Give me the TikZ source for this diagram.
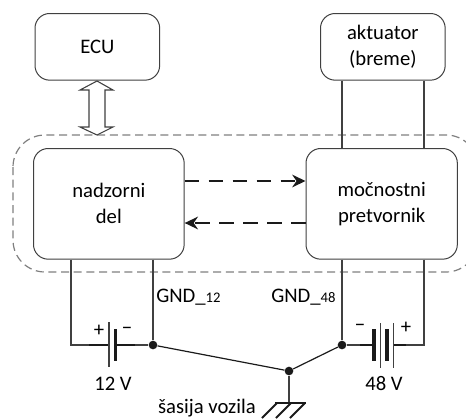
\documentclass[tikz,border=0pt]{standalone}
\usepackage{fontspec}
\setmainfont{Carlito}
\usepackage{tikz}
\usetikzlibrary{calc,arrows.meta}
\definecolor{line}{HTML}{404040}
\definecolor{ink}{HTML}{1A1A1A}
\definecolor{dashgray}{HTML}{7F7F7F}
\tikzset{
  blok/.style={draw=line, line width=0.75pt, rounded corners=11pt, fill=white},
  wire/.style={draw=line, line width=0.95pt},
  lead/.style={draw=ink, line width=1.2pt},
  gnd/.style={draw=ink, line width=0.9pt},
  thin/.style={draw=line, line width=0.9pt},
  thick/.style={draw=ink, line width=2.7pt},
  sig/.style={draw=ink, line width=1.4pt, dash pattern=on 11pt off 7pt, -{Stealth[length=10pt,width=9.5pt]}},
  dot/.style={circle, fill=ink, inner sep=0pt, minimum size=6.5pt},
  lab/.style={text=black, font=\fontsize{15.5}{19.5}\selectfont, align=center, inner sep=0pt},
}

\begin{document}
\begin{tikzpicture}[x=0.75pt,y=-0.75pt]
  \useasboundingbox (0,0) rectangle (466,418);

  % dashed frame
  \draw[dashgray, line width=0.9pt, dash pattern=on 6pt off 3.5pt, rounded corners=24pt] (13,135) rectangle (478,272);

  % blocks
  \node[blok, minimum width=93.5pt, minimum height=50pt, anchor=north west, lab] (ecu) at (34.5,13) {ECU};
  \node[blok, minimum width=93.5pt, minimum height=50pt, anchor=north west, lab] (akt) at (320,13) {aktuator\\(breme)};
  \node[blok, minimum width=113pt, minimum height=83pt, anchor=north west, lab] (nad) at (33,148) {nadzorni\\del};
  \node[blok, minimum width=113.5pt, minimum height=83pt, anchor=north west, lab] (moc) at (305.5,148) {močnostni\\pretvornik};

  % junctions
  \node[dot] (gndL) at (153,345) {};
  \node[dot] (gndR) at (342,345) {};
  \node[dot] (chassis) at (289,371) {};
  \coordinate (earth) at (289,403);

  % wires
  \draw[wire] (nad.south -| 71,0) -- (71,345) -- (89,345);
  \draw[wire] (nad.south -| gndL) -- (gndL);
  \draw[wire] (moc.south -| gndR) -- (gndR);
  \draw[wire] (moc.south -| 424,0) -- (424,345) -- (406,345);
  \draw[wire] (akt.south -| 342,0) -- (moc.north -| 342,0);
  \draw[wire] (akt.south -| 424,0) -- (moc.north -| 424,0);

  % bus arrow
  \draw[line, line width=0.8pt, fill=white] (97,81) -- (113,90) -- (105,90) -- (105,127) -- (113,127) -- (97,135) -- (80,127) -- (89,127) -- (89,90) -- (80,90) -- cycle;

  % control signals
  \draw[sig] (nad.east |- 0,181) -- (moc.west |- 0,181);
  \draw[sig] (moc.west |- 0,223) -- (nad.east |- 0,223);

  % ground wiring
  \draw[gnd] (gndL) -- (chassis) -- (gndR);
  \draw[wire] (chassis) -- (earth);

  % earth symbol
  \draw[gnd, line width=1.6pt] (275,403) -- (306,403);
  \foreach \x in {277,291,305} \draw[gnd, line width=1.4pt] (\x,403) -- (\x-15,418);

  % 12 V battery
  \draw[lead] (89,345) -- (109,345);
  \draw[lead] (115,345) -- (135,345);
  \draw[wire] (135,345) -- (gndL);
  \draw[thin] (109,322) -- (109,367);
  \draw[thick] (115.5,329) -- (115.5,361);

  % 48 V battery
  \draw[wire] (gndR) -- (360,345);
  \draw[lead] (360,345) -- (374,345);
  \draw[lead] (393,345) -- (406,345);
  \draw[thick] (374,329) -- (374,361);
  \draw[thin] (380.5,323) -- (380.5,368);
  \draw[thick] (387,329) -- (387,361);
  \draw[thin] (393.5,323) -- (393.5,368);

  % labels
  \node[lab] (plusL) at (99,331) {+};
  \node[lab] (minusL) at (127,331) {−};
  \node[lab] (minusR) at (360,328) {−};
  \node[lab] (plusR) at (406,328) {+};
  \node[lab] (v12) at (113,384) {12 V};
  \node[lab] (v48) at (384,384) {48 V};
  \node[lab, anchor=base west] (gnd12) at (156,302) {GND\_{\fontsize{11}{13}\selectfont 12}};
  \node[lab, anchor=base west] (gnd48) at (271,302) {GND\_{\fontsize{11}{13}\selectfont 48}};
  \node[lab, anchor=base east] (sasija) at (256,413) {šasija vozila};
\end{tikzpicture}
\end{document}
